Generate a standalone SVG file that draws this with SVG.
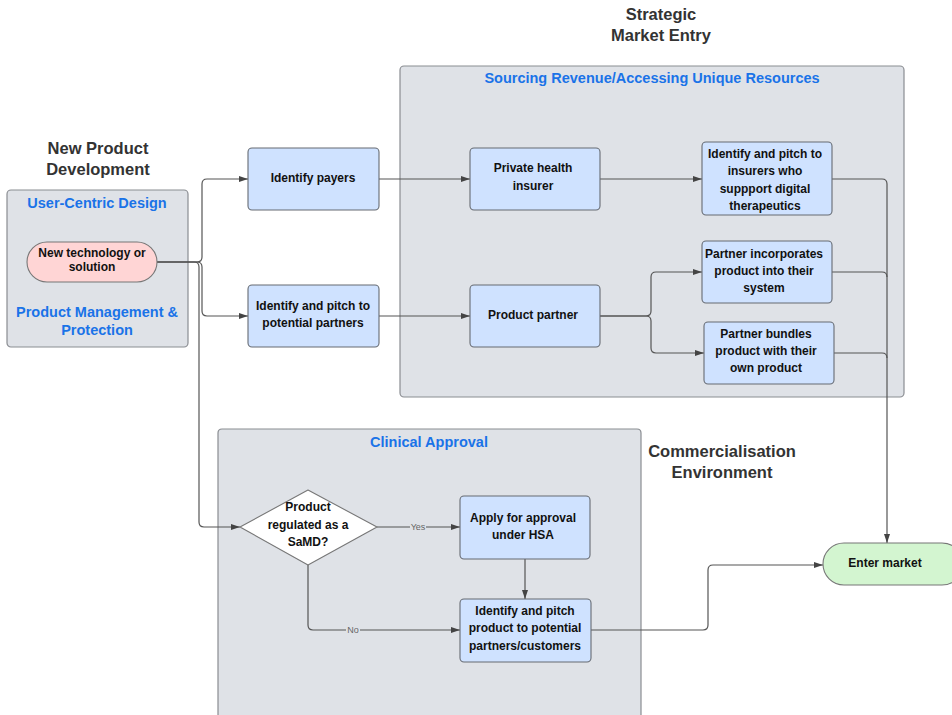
<svg xmlns="http://www.w3.org/2000/svg" width="952" height="715" viewBox="0 0 952 715">
  <defs>
    <marker id="arrow" markerUnits="userSpaceOnUse" markerWidth="10" markerHeight="8" refX="9" refY="4" orient="auto">
      <path d="M0,1 L9,4 L0,7 Z" fill="#444"/>
    </marker>
    <style>
      .zone { fill: #dfe2e7; stroke: #8a8d92; stroke-width: 1.2; }
      .box { fill: #cfe2ff; stroke: #666b73; stroke-width: 1.1; }
      .t { font-family: "Liberation Sans", Arial, sans-serif; font-weight: bold; font-size: 12px; fill: #111; text-anchor: middle; dominant-baseline: central; }
      .h { font-family: "Liberation Sans", Arial, sans-serif; font-weight: bold; font-size: 16.5px; fill: #333; text-anchor: middle; dominant-baseline: central; }
      .b { font-family: "Liberation Sans", Arial, sans-serif; font-weight: bold; font-size: 14.5px; fill: #1a73e8; text-anchor: middle; dominant-baseline: central; }
      .lbl { font-family: "Liberation Sans", Arial, sans-serif; font-size: 9px; fill: #666; text-anchor: middle; dominant-baseline: central; }
      .edge { fill: none; stroke: #555; stroke-width: 1.2; }
    </style>
  </defs>

  <rect width="952" height="715" fill="#ffffff"/>

  <!-- Section headings -->
  <g id="heading-strategic">
    <text class="h" x="661" y="14">Strategic</text>
    <text class="h" x="661" y="35">Market Entry</text>
  </g>
  <g id="heading-npd">
    <text class="h" x="98" y="148">New Product</text>
    <text class="h" x="98" y="169">Development</text>
  </g>
  <g id="heading-commercial">
    <text class="h" x="722" y="451">Commercialisation</text>
    <text class="h" x="722" y="472">Environment</text>
  </g>

  <!-- Zones -->
  <g id="zone-design">
    <rect class="zone" x="7" y="190" width="181" height="157" rx="4"/>
    <text class="b" x="97" y="203">User-Centric Design</text>
    <text class="b" x="97" y="312">Product Management &amp;</text>
    <text class="b" x="97" y="330">Protection</text>
  </g>
  <g id="zone-sourcing">
    <rect class="zone" x="400" y="66" width="504" height="331" rx="4"/>
    <text class="b" x="652" y="78">Sourcing Revenue/Accessing Unique Resources</text>
  </g>
  <g id="zone-clinical">
    <path class="zone" d="M218,716 V433 Q218,429 222,429 H637 Q641,429 641,433 V716"/>
    <text class="b" x="429" y="442">Clinical Approval</text>
  </g>

  <!-- Connectors -->
  <g id="connectors">
    <path class="edge" d="M157,262 H197 Q202,262 202,257 V184 Q202,179 207,179 H248" marker-end="url(#arrow)"/>
    <path class="edge" d="M157,262 H197 Q202,262 202,267 V311 Q202,316 207,316 H248" marker-end="url(#arrow)"/>
    <path class="edge" d="M157,262 H194 Q199,262 199,267 V522 Q199,527 204,527 H240" marker-end="url(#arrow)"/>
    <path class="edge" d="M379,179 H470" marker-end="url(#arrow)"/>
    <path class="edge" d="M600,179 H702" marker-end="url(#arrow)"/>
    <path class="edge" d="M832,179 H882 Q887,179 887,184 V543" marker-end="url(#arrow)"/>
    <path class="edge" d="M379,316 H470" marker-end="url(#arrow)"/>
    <path class="edge" d="M600,316 H646 Q651,316 651,311 V277 Q651,272 656,272 H702" marker-end="url(#arrow)"/>
    <path class="edge" d="M600,316 H646 Q651,316 651,321 V348 Q651,353 656,353 H704" marker-end="url(#arrow)"/>
    <path class="edge" d="M832,272 H882 Q887,272 887,277"/>
    <path class="edge" d="M834,353 H882 Q887,353 887,358"/>
    <path class="edge" d="M377,527 H460" marker-end="url(#arrow)"/>
    <path class="edge" d="M308,565 V625 Q308,630 313,630 H460" marker-end="url(#arrow)"/>
    <path class="edge" d="M525,559 V599" marker-end="url(#arrow)"/>
    <path class="edge" d="M591,630 H703 Q708,630 708,625 V570 Q708,565 713,565 H823" marker-end="url(#arrow)"/>
    <rect x="410" y="522" width="16" height="10" fill="#dfe2e7"/>
    <text class="lbl" x="418" y="527">Yes</text>
    <rect x="346" y="625" width="14" height="10" fill="#dfe2e7"/>
    <text class="lbl" x="353" y="630">No</text>
  </g>

  <!-- Nodes -->
  <g id="node-new-tech">
    <rect x="27" y="242" width="130" height="40" rx="20" fill="#ffd5d5" stroke="#777" stroke-width="1.1"/>
    <text class="t" x="92" y="253">New technology or</text>
    <text class="t" x="92" y="267">solution</text>
  </g>
  <g id="node-payers">
    <rect class="box" x="248" y="148" width="131" height="62" rx="4"/>
    <text class="t" x="313" y="178">Identify payers</text>
  </g>
  <g id="node-partners">
    <rect class="box" x="248" y="285" width="131" height="62" rx="4"/>
    <text class="t" x="313" y="306">Identify and pitch to</text>
    <text class="t" x="313" y="323">potential partners</text>
  </g>
  <g id="node-insurer">
    <rect class="box" x="470" y="148" width="130" height="62" rx="4"/>
    <text class="t" x="533" y="168">Private health</text>
    <text class="t" x="533" y="186">insurer</text>
  </g>
  <g id="node-pitch-insurers">
    <rect class="box" x="702" y="142" width="130" height="73" rx="4"/>
    <text class="t" x="765" y="154">Identify and pitch to</text>
    <text class="t" x="765" y="171">insurers who</text>
    <text class="t" x="765" y="189">suppport digital</text>
    <text class="t" x="765" y="206">therapeutics</text>
  </g>
  <g id="node-product-partner">
    <rect class="box" x="470" y="285" width="130" height="62" rx="4"/>
    <text class="t" x="533" y="315">Product partner</text>
  </g>
  <g id="node-incorporates">
    <rect class="box" x="702" y="241" width="130" height="62" rx="4"/>
    <text class="t" x="764" y="254">Partner incorporates</text>
    <text class="t" x="764" y="271">product into their</text>
    <text class="t" x="764" y="288">system</text>
  </g>
  <g id="node-bundles">
    <rect class="box" x="704" y="322" width="130" height="62" rx="4"/>
    <text class="t" x="766" y="334">Partner bundles</text>
    <text class="t" x="766" y="351">product with their</text>
    <text class="t" x="766" y="368">own product</text>
  </g>
  <g id="node-samd">
    <polygon points="240,527 308,490 377,527 308,565" fill="#ffffff" stroke="#777" stroke-width="1.1" stroke-linejoin="round"/>
    <text class="t" x="308" y="507">Product</text>
    <text class="t" x="308" y="525">regulated as a</text>
    <text class="t" x="308" y="542">SaMD?</text>
  </g>
  <g id="node-hsa">
    <rect class="box" x="460" y="496" width="130" height="63" rx="4"/>
    <text class="t" x="523" y="518">Apply for approval</text>
    <text class="t" x="523" y="535">under HSA</text>
  </g>
  <g id="node-pitch-customers">
    <rect class="box" x="460" y="599" width="131" height="63" rx="4"/>
    <text class="t" x="525" y="611">Identify and pitch</text>
    <text class="t" x="525" y="628">product to potential</text>
    <text class="t" x="525" y="646">partners/customers</text>
  </g>
  <g id="node-enter-market">
    <rect x="823" y="543" width="140" height="42" rx="21" fill="#d3f5d0" stroke="#777" stroke-width="1.1"/>
    <text class="t" x="885" y="563">Enter market</text>
  </g>
</svg>
